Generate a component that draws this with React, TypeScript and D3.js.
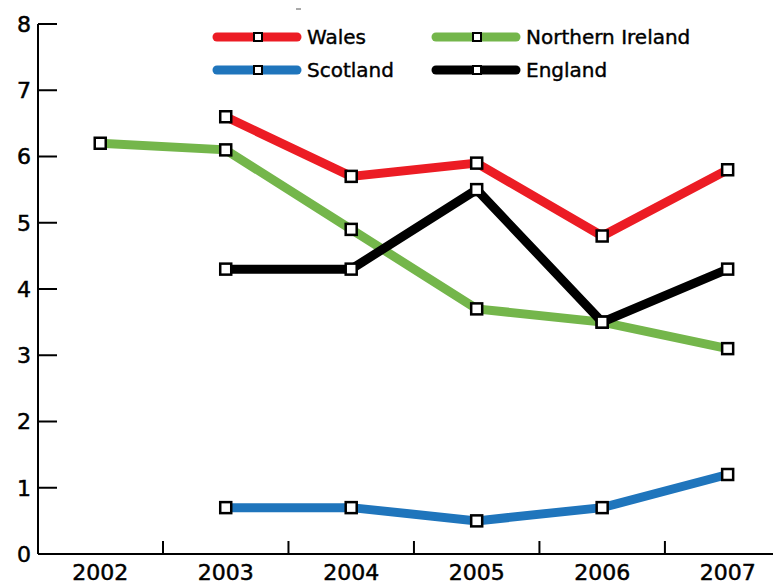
import React from 'react'
import * as d3 from 'd3'

const years = ['2002', '2003', '2004', '2005', '2006', '2007']
const wales = [null, 6.6, 5.7, 5.9, 4.8, 5.8]
const northernIreland = [6.2, 6.1, 4.9, 3.7, 3.5, 3.1]
const scotland = [null, 0.7, 0.7, 0.5, 0.7, 1.2]
const england = [null, 4.3, 4.3, 5.5, 3.5, 4.3]
const yTicks = [0, 1, 2, 3, 4, 5, 6, 7, 8]

const series = [
  {name: 'Northern Ireland', values: northernIreland, color: '#74b64b'},
  {name: 'Wales', values: wales, color: '#ec1c24'},
  {name: 'Scotland', values: scotland, color: '#1f75bc'},
  {name: 'England', values: england, color: '#000000'},
]

const legendRows = [
  ['Wales', 'Northern Ireland'],
  ['Scotland', 'England'],
]

const W = 773
const H = 582
const left = 38
const top = 24
const bottom = 554
const font = '"DejaVu Sans", sans-serif'

const App = () => {
  const x = d3.scaleBand().domain(years).range([left - 0.5, left + 6 * 125.4])
  const y = d3.scaleLinear().domain([0, 8]).range([bottom, top])
  const cx = (yr) => x(yr) + x.bandwidth() / 2

  const line = d3.line()
    .defined((d) => d.v !== null)
    .x((d) => cx(d.yr))
    .y((d) => y(d.v))

  const pts = (s) => years.map((yr, i) => ({yr, v: s.values[i]}))
  const byName = (n) => series.find((s) => s.name === n)

  return (
    <svg width={W} height={H} style={{position: 'absolute', left: 0, top: 0}}>
      {/* axes */}
      <line x1={left} x2={left} y1={top} y2={bottom} stroke="#000" strokeWidth={2}/>
      <line x1={left} x2={W} y1={bottom} y2={bottom} stroke="#000" strokeWidth={2}/>
      {yTicks.map((t) => (
        <g key={t}>
          <line x1={left} x2={left + 19} y1={y(t)} y2={y(t)} stroke="#000" strokeWidth={2}/>
          <text x={left - 7} y={y(t)} dy="0.36em" textAnchor="end"
            fontFamily={font} fontSize={22} fill="#000" stroke="#000" strokeWidth={0.5}>{t}</text>
        </g>
      ))}
      {years.slice(1).map((yr) => (
        <line key={yr} x1={x(yr)} x2={x(yr)} y1={bottom} y2={bottom - 13} stroke="#000" strokeWidth={2}/>
      ))}
      {years.map((yr) => (
        <text key={yr} x={cx(yr)} y={580} textAnchor="middle"
          fontFamily={font} fontSize={22} fill="#000" stroke="#000" strokeWidth={0.5}>{yr}</text>
      ))}

      {/* lines */}
      {series.map((s) => (
        <path key={s.name} d={line(pts(s))} fill="none" stroke={s.color}
          strokeWidth={9} strokeLinejoin="miter"/>
      ))}
      {series.map((s) => pts(s).filter((d) => d.v !== null).map((d) => (
        <rect key={s.name + d.yr} x={cx(d.yr) - 5.5} y={y(d.v) - 5.5} width={11} height={11}
          fill="#fff" stroke="#000" strokeWidth={2.5}/>
      )))}

      {/* legend */}
      {legendRows.map((row, r) => row.map((n, c) => {
        const s = byName(n)
        const lx = 213 + c * 219
        const ly = 37 + r * 33
        return (
          <g key={n}>
            <line x1={lx + 4} x2={lx + 84} y1={ly} y2={ly} stroke={s.color} strokeWidth={9} strokeLinecap="round"/>
            <rect x={lx + 41} y={ly - 4} width={8} height={8} fill="#fff" stroke="#000" strokeWidth={2}/>
            <text x={lx + 94} y={ly} dy="0.36em" fontFamily={font} fontSize={20} fill="#000"
              stroke="#000" strokeWidth={0.4}>{n}</text>
          </g>
        )
      }))}
      <line x1={296} x2={301} y1={9} y2={9} stroke="#555" strokeWidth={1}/>
    </svg>
  )
}

export default App
